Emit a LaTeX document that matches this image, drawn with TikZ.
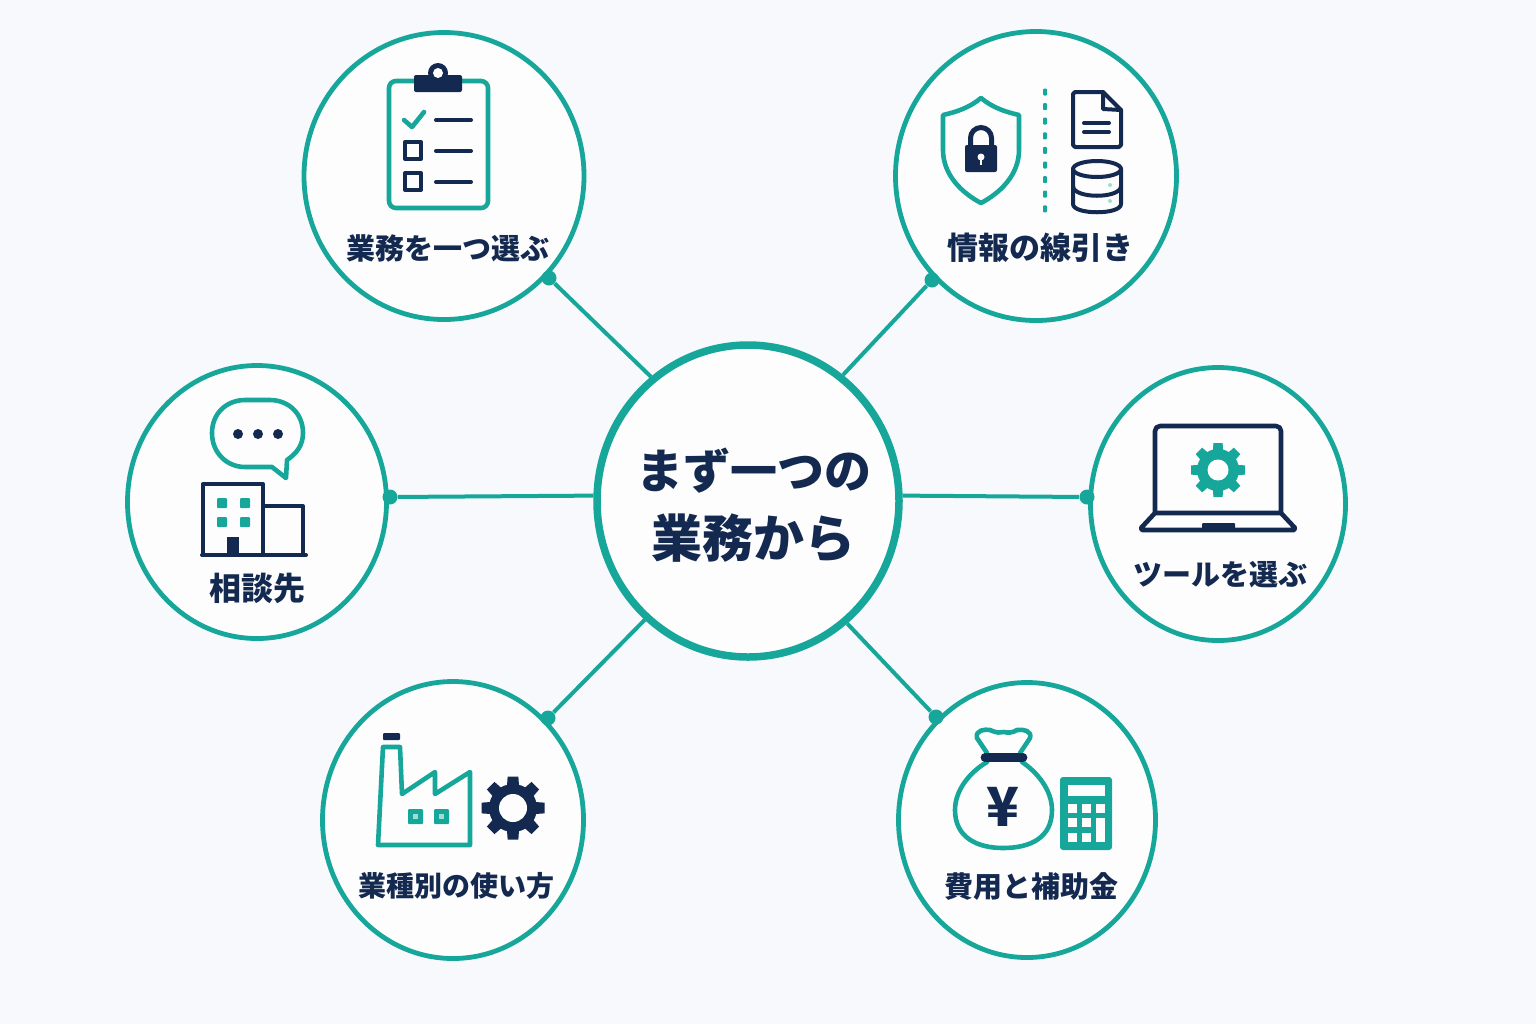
\documentclass[tikz,border=0pt]{standalone}
\usepackage{fontspec}
\usetikzlibrary{positioning,shapes.geometric}
\newfontfamily\jpfont{Noto Sans CJK JP}
\definecolor{ringteal}{HTML}{16A79A}
\definecolor{inknavy}{HTML}{13294F}
\definecolor{paper}{HTML}{F7F9FC}
\definecolor{disc}{HTML}{FDFDFE}
\definecolor{keylight}{HTML}{9FDDD5}

\begin{document}
\begin{tikzpicture}
    [
    x=0.5pt, y=-0.5pt,
    topic/.style={
      ellipse, draw=ringteal, fill=disc, line width=2.4pt, inner sep=0pt},
    hubring/.style={
      ellipse, draw=ringteal, fill=disc, line width=3.75pt, inner sep=0pt},
    caption/.style={
      text=inknavy, inner sep=0pt, font=\jpfont\bfseries\fontsize{#1}{16}\selectfont},
    caption/.default=14.5,
    link/.style={line width=2pt, color=ringteal},
    joint/.style={circle, fill=ringteal, inner sep=0pt, minimum size=7.5pt},
    tealline/.style={line width=2.3pt, color=ringteal, line join=round, line cap=round},
    navyline/.style={line width=2pt, color=inknavy, line join=round, line cap=round}
    ]
    \def\drawgear#1#2#3#4#5#6{
      % centre x, centre y, outer, body, hole, colour
      \foreach \a in {0,45,...,315} {
        \fill[#6, rotate around={\a:(#1,#2)}]
          ({#1-0.24*#3},#2) -- ({#1-0.17*#3},{#2-#3}) -- ({#1+0.17*#3},{#2-#3}) -- ({#1+0.24*#3},#2) -- cycle;
      }
      \fill[#6] (#1,#2) circle (#4);
      \fill[disc] (#1,#2) circle (#5);
    }

    \useasboundingbox (0,0) rectangle (1536,1024);
    \fill[paper] (0,0) rectangle (1536,1024);

    % First, draw the six circles and the one in the middle
    \node[topic, minimum width=140pt, minimum height=143.5pt] (work) at (444,176) {};
    \node[topic, minimum width=140.5pt, minimum height=144.5pt] (info) at (1036,176) {};
    \node[topic, minimum width=129.5pt, minimum height=136.5pt] (advisor) at (257,502) {};
    \node[topic, minimum width=127.5pt, minimum height=136.5pt] (tool) at (1218,504) {};
    \node[topic, minimum width=130.5pt, minimum height=138.5pt] (usecase) at (453,820) {};
    \node[topic, minimum width=128.5pt, minimum height=137.5pt] (cost) at (1027,820) {};
    \node[hubring, minimum width=151pt, minimum height=156pt] (hub) at (748,501) {};
    \node[inner sep=0pt, text=inknavy, align=center, font=\jpfont\bfseries] (hubtext) at (753.5,505)
      {\fontsize{23.5}{34}\selectfont まず一つの\\[9.5pt]\fontsize{25.5}{34}\selectfont 業務から};

    % Draw the joints and the connectors
    \node[joint] (jwork) at (549,278) {};
    \node[joint] (jinfo) at (932,280) {};
    \node[joint] (jadvisor) at (390,497) {};
    \node[joint] (jtool) at (1087,497) {};
    \node[joint] (jusecase) at (548,718) {};
    \node[joint] (jcost) at (936,717) {};
    \draw[link] (hub.128) -- (jwork);
    \draw[link] (hub.53) -- (jinfo);
    \draw[link] (hub.178) -- (jadvisor);
    \draw[link] (hub.2) -- (jtool);
    \draw[link] (hub.229) -- (jusecase);
    \draw[link] (hub.309) -- (jcost);

    % Labels of the circles
    \node[caption] (lwork) at (448,248) {業務を一つ選ぶ};
    \node[caption=15.5] (linfo) at (1040,248) {情報の線引き};
    \node[caption=16] (ladvisor) at (257,588) {相談先};
    \node[caption] (ltool) at (1220,575) {ツールを選ぶ};
    \node[caption=14] (lusecase) at (456,886) {業種別の使い方};
    \node[caption] (lcost) at (1031,886) {費用と補助金};

    % Clipboard
    \draw[tealline, rounded corners=3.5] (389,81) rectangle (488,208);
    \fill[inknavy, rounded corners=1] (414,75) rectangle (462,92);
    \fill[inknavy] (438,73) circle (10);
    \fill[disc] (438,73) circle (5);
    \draw[tealline] (404,120) -- (412,127) -- (424,112);
    \foreach \y in {120,151,182} {
      \draw[navyline] (436,\y) -- (471,\y);
    }
    \foreach \y in {142,173} {
      \draw[navyline, line cap=butt] (405,\y) rectangle (421,{\y+17});
    }

    % Shield, dotted line, document and database
    \draw[tealline] (981,98) .. controls (993,108) and (1006,112) .. (1019,115) -- (1019,150)
      .. controls (1019,175) and (1000,193) .. (981,203)
      .. controls (962,193) and (943,175) .. (943,150) -- (943,115)
      .. controls (956,112) and (969,108) .. (981,98) -- cycle;
    \draw[inknavy, line width=2.5pt] (970.5,147) -- (970.5,138) arc (180:360:10.5) -- (991.5,147);
    \fill[inknavy, rounded corners=1] (965,145) rectangle (997,172);
    \fill[disc] (981,157) circle (3.5);
    \draw[disc, line width=1.2pt] (981,157) -- (981,165);
    \foreach \k in {0,...,8} {
      \fill[ringteal, rounded corners=0.5] (1043,{88.5+14.6*\k}) rectangle (1047,{95.5+14.6*\k});
    }
    \draw[navyline] (1103,92) -- (1075,92) -- (1073,94) -- (1073,145) -- (1075,147) -- (1119,147)
      -- (1121,145) -- (1121,110) -- cycle;
    \draw[navyline] (1103,92) -- (1103,109) -- (1121,110);
    \draw[navyline] (1084,123) -- (1109,123);
    \draw[navyline] (1084,132) -- (1109,132);
    \draw[navyline] (1097,169) ellipse (24 and 8);
    \draw[navyline] (1073,169) -- (1073,204) .. controls (1073,215) and (1121,215) .. (1121,204) -- (1121,169);
    \draw[navyline] (1073,186) .. controls (1073,199) and (1121,199) .. (1121,186);
    \fill[keylight] (1110,185) circle (2);
    \fill[keylight] (1110,201) circle (2);

    % Speech bubble and building
    \draw[tealline] (272,467) -- (286,478) -- (287,460) .. controls (297,453) and (303,445) .. (303,433)
      .. controls (303,413) and (288,400) .. (270,400) -- (245,400)
      .. controls (227,400) and (212,413) .. (212,433)
      .. controls (212,453) and (227,467) .. (245,467) -- cycle;
    \foreach \x in {238,258,278} {
      \fill[inknavy] (\x,434) circle (5);
    }
    \draw[navyline] (263,555) -- (263,484) -- (203,484) -- (203,555);
    \draw[navyline] (263,506) -- (303,506) -- (303,555);
    \draw[navyline] (202,555) -- (306,555);
    \foreach \x in {217,240} {
      \foreach \y in {498,517} {
        \fill[ringteal, rounded corners=0.5] (\x,\y) rectangle ({\x+10},{\y+10});
      }
    }
    \fill[inknavy] (227,537) rectangle (239,555);

    % Laptop
    \draw[inknavy, line width=2.3pt, line join=round, rounded corners=2.5] (1155,513) -- (1155,426) -- (1281,426) -- (1281,513);
    \draw[inknavy, line width=2.3pt, line join=round] (1155,513) -- (1281,513) -- (1295,528)
      -- (1294,530) -- (1142,530) -- (1141,528) -- cycle;
    \fill[inknavy, rounded corners=0.5] (1202,523) rectangle (1235,531);
    \drawgear{1218}{470}{27}{21}{10.5}{ringteal}

    % Factory and gear
    \draw[tealline] (378,845) -- (383,747) -- (400,747) -- (402,794) -- (435,772) -- (435,794)
      -- (470,772) -- (470,845) -- cycle;
    \fill[inknavy, rounded corners=0.5] (383,733) rectangle (400,740);
    \foreach \x in {408,434} {
      \fill[ringteal, rounded corners=0.5] (\x,809) rectangle ({\x+15},824);
      \fill[keylight] ({\x+5},814) rectangle ({\x+10},819);
    }
    \drawgear{513}{808}{31.5}{24}{14}{inknavy}

    % Money bag and calculator
    \draw[tealline] (987,753) -- (977,738) .. controls (975,730) and (985,729) .. (990,730)
      .. controls (997,733) and (1000,733) .. (1004,732)
      .. controls (1008,733) and (1012,733) .. (1017,730)
      .. controls (1024,729) and (1032,731) .. (1030,738) -- (1020,753);
    \draw[tealline] (987,762) .. controls (970,772) and (955,790) .. (955,810)
      .. controls (955,838) and (978,848) .. (1003,848)
      .. controls (1030,848) and (1052,838) .. (1052,810)
      .. controls (1052,790) and (1037,772) .. (1022,762);
    \draw[inknavy, line width=4.4pt, line cap=round] (985,757.5) -- (1023,757.5);
    \node[text=inknavy, inner sep=0pt, font=\jpfont\bfseries\fontsize{27}{27}\selectfont] (yen) at (1003,807) {¥};
    \fill[ringteal, rounded corners=1.5] (1060,777) rectangle (1112,850);
    \fill[disc] (1068,785) rectangle (1105,796);
    \foreach \x in {1068,1082} {
      \foreach \y in {804,818,833} {
        \fill[disc] (\x,\y) rectangle ({\x+9},{\y+9});
      }
    }
    \fill[disc] (1096,804) rectangle (1105,813);
    \fill[disc] (1096,818) rectangle (1105,842);
\end{tikzpicture}
\end{document}
